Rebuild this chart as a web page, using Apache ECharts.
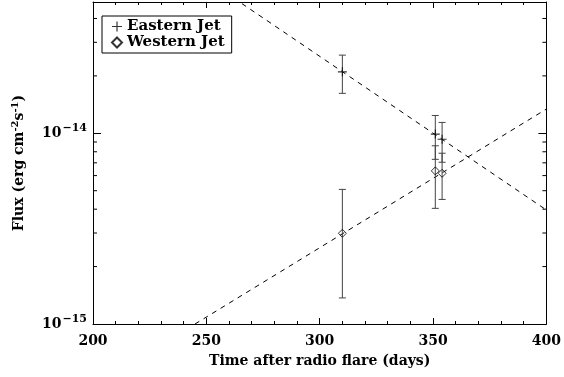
<!DOCTYPE html>
<html>
<head>
<meta charset="utf-8">
<script src="https://cdn.jsdelivr.net/npm/echarts@6/dist/echarts.min.js"></script>
<style>
  html, body { margin: 0; padding: 0; background: #fff; }
  #chart { width: 564px; height: 377px; }
</style>
</head>
<body>
<div id="chart"></div>
<script>
// days after the radio flare
var days = [310, 351, 354];
// eastern jet flux and its error bar
var eastFlux = [2.1e-14, 0.99e-14, 0.93e-14];
var eastLow = [1.62e-14, 0.73e-14, 0.705e-14];
var eastHigh = [2.57e-14, 1.24e-14, 1.14e-14];
// western jet flux and its error bar
var westFlux = [2.99e-15, 6.35e-15, 6.17e-15];
var westLow = [1.37e-15, 4.04e-15, 4.5e-15];
var westHigh = [5.08e-15, 8.6e-15, 7.86e-15];
// fitted lines (dashed)
var eastFitX = [200, 400], eastFitY = [1.62e-13, 3.96e-15];
var westFitX = [245, 400], westFitY = [1e-15, 1.34e-14];
// axis ranges and ticks
var xMin = 200, xMax = 400, xStep = 50;
var yMin = 1e-15, yMax = 4.88e-14;
var yMinorTicks = [2e-15, 3e-15, 4e-15, 5e-15, 6e-15, 7e-15, 8e-15, 9e-15, 2e-14, 3e-14, 4e-14];

var font = 'DejaVu Serif';
var black = '#000';

// the y axis is linear in log10(flux), so the flux is drawn on a log scale
function lg(v) { return Math.log10(v); }

function pairs(xs, ys) {
    var out = [];
    for (var i = 0; i < xs.length; i++) out.push([xs[i], lg(ys[i])]);
    return out;
}
function bars(xs, lo, hi) {
    var out = [];
    for (var i = 0; i < xs.length; i++) out.push([xs[i], lg(lo[i]), lg(hi[i])]);
    return out;
}

function errorBar(params, api) {
    var x = api.value(0);
    var p1 = api.coord([x, api.value(1)]);
    var p2 = api.coord([x, api.value(2)]);
    var w = 3.5;
    var st = { stroke: '#444', lineWidth: 1 };
    return {
        type: 'group',
        children: [
            { type: 'line', shape: { x1: p1[0], y1: p1[1], x2: p2[0], y2: p2[1] }, style: st },
            { type: 'line', shape: { x1: p1[0] - w, y1: p1[1], x2: p1[0] + w, y2: p1[1] }, style: st },
            { type: 'line', shape: { x1: p2[0] - w, y1: p2[1], x2: p2[0] + w, y2: p2[1] }, style: st }
        ]
    };
}

// minor ticks of the log axis at 2..9 x 10^n, both sides
function minorTick(params, api) {
    var v = api.value(1);
    var l = api.coord([xMin, v]);
    var r = api.coord([xMax, v]);
    var st = { stroke: black, lineWidth: 1 };
    return {
        type: 'group',
        children: [
            { type: 'line', shape: { x1: l[0], y1: l[1], x2: l[0] + 4, y2: l[1] }, style: st },
            { type: 'line', shape: { x1: r[0], y1: r[1], x2: r[0] - 4, y2: r[1] }, style: st }
        ]
    };
}

var xCommon = {
    type: 'value', min: xMin, max: xMax, interval: xStep,
    axisLine: { lineStyle: { color: black, width: 1 } },
    axisTick: { inside: true, length: 6, lineStyle: { color: black } },
    minorTick: { show: true, splitNumber: 5, length: 3, lineStyle: { color: black } },
    splitLine: { show: false }
};
var yCommon = {
    type: 'value', min: lg(yMin), max: lg(yMax), interval: 1,
    axisLine: { show: true, lineStyle: { color: black, width: 1 } },
    axisTick: { inside: true, length: 8, lineStyle: { color: black } },
    splitLine: { show: false }
};

var myChart = echarts.init(document.getElementById('chart'));
var option = {
    animation: false,
    backgroundColor: '#fff',
    grid: { left: 93, right: 17, top: 2, bottom: 53 },
    legend: {
        orient: 'vertical',
        left: 102, top: 16,
        padding: [3, 7, 3, 9],
        itemGap: 1,
        itemWidth: 10, itemHeight: 10,
        borderColor: black, borderWidth: 1,
        textStyle: { fontFamily: font, fontWeight: 'bold', fontSize: 15, color: black },
        data: ['Eastern Jet', 'Western Jet']
    },
    xAxis: [
        Object.assign({}, xCommon, {
            position: 'bottom',
            name: 'Time after radio flare (days)',
            nameLocation: 'middle', nameGap: 30,
            nameTextStyle: { fontFamily: font, fontWeight: 'bold', fontSize: 14, color: black },
            axisLabel: { margin: 10, fontFamily: font, fontWeight: 'bold', fontSize: 14, color: black }
        }),
        Object.assign({}, xCommon, { position: 'top', axisLabel: { show: false } })
    ],
    yAxis: [
        Object.assign({}, yCommon, {
            position: 'left',
            name: '{a|Flux (erg cm}{s|-2}{a|s}{s|-1}{a|)}',
            nameLocation: 'middle', nameGap: 64, nameRotate: 90,
            nameTextStyle: {
                rich: {
                    a: { fontFamily: font, fontWeight: 'bold', fontSize: 14, color: black },
                    s: { fontFamily: font, fontWeight: 'bold', fontSize: 10, color: black, padding: [0, 0, 9, 0] }
                }
            },
            axisLabel: {
                margin: 6,
                showMaxLabel: false,
                formatter: function (v) {
                    if (Math.abs(v - Math.round(v)) > 1e-6) return '';
                    var e = Math.round(v);
                    return '{b|10}{e|\u2212' + Math.abs(e) + '}';
                },
                rich: {
                    b: { fontFamily: font, fontWeight: 'bold', fontSize: 14, color: black },
                    e: { fontFamily: font, fontWeight: 'bold', fontSize: 11, color: black, padding: [0, 0, 10, 1] }
                }
            }
        }),
        Object.assign({}, yCommon, { position: 'right', axisLabel: { show: false } })
    ],
    series: [
        {
            name: 'Eastern Jet', type: 'scatter',
            symbol: 'path://M4.4,0H5.6V4.4H10V5.6H5.6V10H4.4V5.6H0V4.4H4.4Z',
            symbolSize: 9,
            itemStyle: { color: black },
            data: pairs(days, eastFlux), z: 5
        },
        {
            name: 'Western Jet', type: 'scatter',
            symbol: 'diamond', symbolSize: 8,
            itemStyle: { color: 'rgba(0,0,0,0)', borderColor: black, borderWidth: 1 },
            data: pairs(days, westFlux), z: 5
        },
        { type: 'custom', renderItem: errorBar, data: bars(days, eastLow, eastHigh), z: 4, silent: true },
        { type: 'custom', renderItem: errorBar, data: bars(days, westLow, westHigh), z: 4, silent: true },
        {
            type: 'line', data: pairs(eastFitX, eastFitY), showSymbol: false, clip: true,
            lineStyle: { color: black, width: 1, type: [5, 5] }, silent: true
        },
        {
            type: 'line', data: pairs(westFitX, westFitY), showSymbol: false, clip: true,
            lineStyle: { color: black, width: 1, type: [5, 5] }, silent: true
        },
        {
            type: 'custom', renderItem: minorTick, silent: true, z: 6,
            data: yMinorTicks.map(function (v) { return [xMin, lg(v)]; })
        }
    ]
};
myChart.setOption(option);
window.onresize = myChart.resize;
</script>
</body>
</html>
